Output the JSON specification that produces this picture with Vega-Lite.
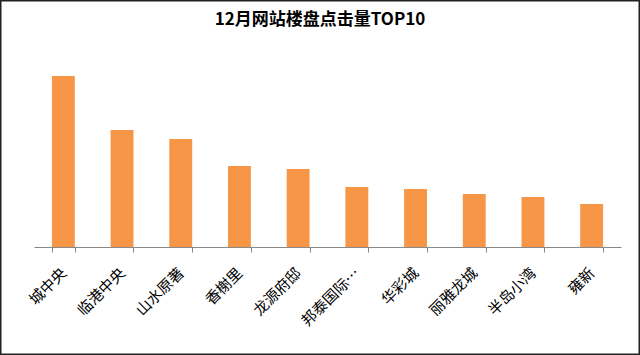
{
  "$schema": "https://vega.github.io/schema/vega-lite/v6.json",
  "width": 640,
  "height": 355,
  "padding": 0,
  "autosize": {"type": "none"},
  "background": "white",
  "title": {
    "text": "12月网站楼盘点击量TOP10",
    "font": "Noto Sans CJK SC",
    "fontSize": 17,
    "fontWeight": "bold",
    "color": "#000000",
    "anchor": "middle",
    "baseline": "top",
    "offset": -29
  },
  "config": {
    "view": {"stroke": "#222222", "strokeWidth": 3}
  },
  "data": {
    "values": [
      {"name": "城中央", "clicks": 171},
      {"name": "临港中央", "clicks": 117},
      {"name": "山水原著", "clicks": 108},
      {"name": "香榭里", "clicks": 81},
      {"name": "龙源府邸", "clicks": 78},
      {"name": "邦泰国际…", "clicks": 60},
      {"name": "华彩城", "clicks": 58},
      {"name": "丽雅龙城", "clicks": 53},
      {"name": "半岛小湾", "clicks": 50},
      {"name": "雍新", "clicks": 43}
    ]
  },
  "mark": {"type": "bar", "color": "#F79646"},
  "encoding": {
    "x": {
      "field": "name",
      "type": "nominal",
      "sort": null,
      "scale": {"range": [34, 621], "paddingInner": 0.61, "paddingOuter": 0.305},
      "axis": {
        "title": null,
        "offset": -108,
        "labelAngle": -45,
        "labelAlign": "right",
        "labelBaseline": "middle",
        "labelFont": "Noto Sans CJK SC",
        "labelFontSize": 15,
        "labelColor": "#000000",
        "labelPadding": 18,
        "tickBand": "extent",
        "tickSize": 5,
        "tickColor": "#888888",
        "domainColor": "#888888",
        "labelOverlap": false
      }
    },
    "y": {
      "field": "clicks",
      "type": "quantitative",
      "scale": {"domain": [0, 207], "range": [247, 40]},
      "axis": null
    }
  }
}
